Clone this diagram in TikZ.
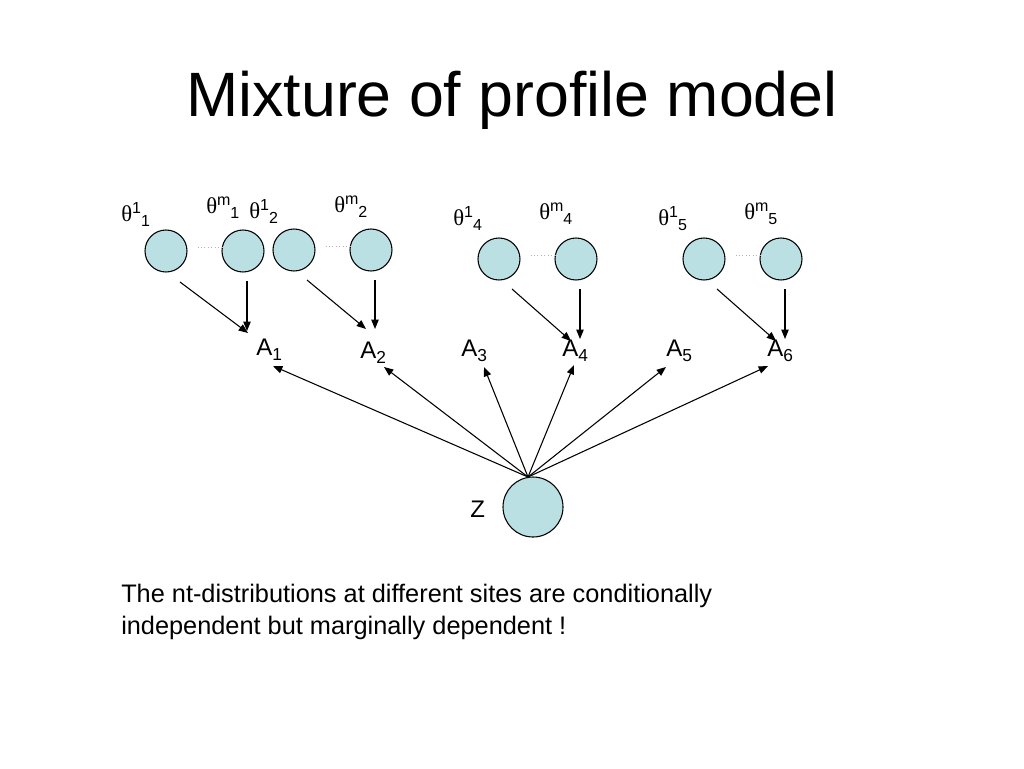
\documentclass[tikz,border=0pt]{standalone}
\usepackage{fontspec}
\setmainfont{Liberation Sans}
\newfontfamily\symf{Liberation Serif}
\usetikzlibrary{arrows.meta}
\begin{document}
\begin{tikzpicture}[x=0.75pt,y=-0.75pt,
  var/.style={circle,draw=black,line width=0.8pt,fill={rgb,255:red,186;green,224;blue,228},inner sep=0pt},
  lbl/.style={font=\fontsize{17pt}{20pt}\selectfont,inner sep=0pt,anchor=base west},
  alab/.style={font=\fontsize{18pt}{22pt}\selectfont,inner sep=0pt,anchor=base west},
  arr/.style={-{Triangle[length=7pt,width=5.5pt]},line width=0.8pt},
  dots/.style={gray!60,dotted,line width=0.6pt}]
\useasboundingbox (0,0) rectangle (1024,768);
% title
\node[font=\fontsize{47pt}{56pt}\selectfont,inner sep=0pt] (title) at (512,100) {Mixture of profile model};
% theta circles
\node[var,minimum size=31.5pt] (t11) at (166,251) {};
\node[var,minimum size=31.5pt] (tm1) at (243,251) {};
\node[var,minimum size=31.5pt] (t12) at (294,250) {};
\node[var,minimum size=31.5pt] (tm2) at (371,250) {};
\node[var,minimum size=31.5pt] (t14) at (499,259) {};
\node[var,minimum size=31.5pt] (tm4) at (576,259) {};
\node[var,minimum size=31.5pt] (t15) at (704,259) {};
\node[var,minimum size=31.5pt] (tm5) at (781,259) {};
\node[var,minimum size=45pt] (z) at (533,507) {};
% dotted links
\draw[dots] (t11.east) ++(10,-4) coordinate (d1a) -- ++(25,0) coordinate (d1b);
\draw[dots] (t12.east) ++(10,-4) coordinate (d2a) -- ++(25,0) coordinate (d2b);
\draw[dots] (t14.east) ++(10,-4) coordinate (d4a) -- ++(25,0) coordinate (d4b);
\draw[dots] (t15.east) ++(10,-4) coordinate (d5a) -- ++(25,0) coordinate (d5b);
% theta labels
\newcommand\thlab[2]{{\symf θ}\raisebox{6pt}{\fontsize{12pt}{13pt}\selectfont #1}\raisebox{-4pt}{\fontsize{12pt}{13pt}\selectfont #2}}
\node[lbl] (l11) at (121,221) {\thlab{1}{1}};
\node[lbl] (lm1) at (206,213) {\thlab{m}{1}};
\node[lbl] (l12) at (249,218) {\thlab{1}{2}};
\node[lbl] (lm2) at (334,212) {\thlab{m}{2}};
\node[lbl] (l14) at (453,225) {\thlab{1}{4}};
\node[lbl] (lm4) at (539,219) {\thlab{m}{4}};
\node[lbl] (l15) at (658,225) {\thlab{1}{5}};
\node[lbl] (lm5) at (744,219) {\thlab{m}{5}};
% A labels
\newcommand\alabel[1]{A\raisebox{-4pt}{\fontsize{13pt}{15pt}\selectfont #1}}
\node[alab] (a1) at (256,355) {\alabel{1}};
\node[alab] (a2) at (360,358) {\alabel{2}};
\node[alab] (a3) at (461,356) {\alabel{3}};
\node[alab] (a4) at (562,356) {\alabel{4}};
\node[alab] (a5) at (666,356) {\alabel{5}};
\node[alab] (a6) at (767,356) {\alabel{6}};
\node[alab] (zl) at (470,517) {Z};
% arrow coordinates
\coordinate (s11) at (180,282); \coordinate (e11) at (248,333);
\coordinate (sm1) at (247,281); \coordinate (em1) at (247,331);
\coordinate (s12) at (307,280); \coordinate (e12) at (366,329);
\coordinate (sm2) at (375,280); \coordinate (em2) at (375,329);
\coordinate (s14) at (512,289); \coordinate (e14) at (571,341);
\coordinate (sm4) at (580,289); \coordinate (em4) at (580,339);
\coordinate (s15) at (717,289); \coordinate (e15) at (776,341);
\coordinate (sm5) at (785,289); \coordinate (em5) at (785,339);
\draw[arr] (s11) -- (e11);
\draw[arr] (sm1) -- (em1);
\draw[arr] (s12) -- (e12);
\draw[arr] (sm2) -- (em2);
\draw[arr] (s14) -- (e14);
\draw[arr] (sm4) -- (em4);
\draw[arr] (s15) -- (e15);
\draw[arr] (sm5) -- (em5);
% Z arrows
\coordinate (zt) at (528,477);
\coordinate (za1) at (273,366);
\coordinate (za2) at (384,367);
\coordinate (za3) at (484,367);
\coordinate (za4) at (574,365);
\coordinate (za5) at (666,367);
\coordinate (za6) at (768,366);
\foreach \t in {za1,za2,za3,za4,za5,za6} \draw[arr] (zt) -- (\t);
% caption
\node[font=\fontsize{19pt}{24pt}\selectfont,inner sep=0pt,anchor=north west,align=left] (cap) at (121,584) {The nt-distributions at different sites are conditionally\\independent but marginally dependent !};
\end{tikzpicture}
\end{document}
